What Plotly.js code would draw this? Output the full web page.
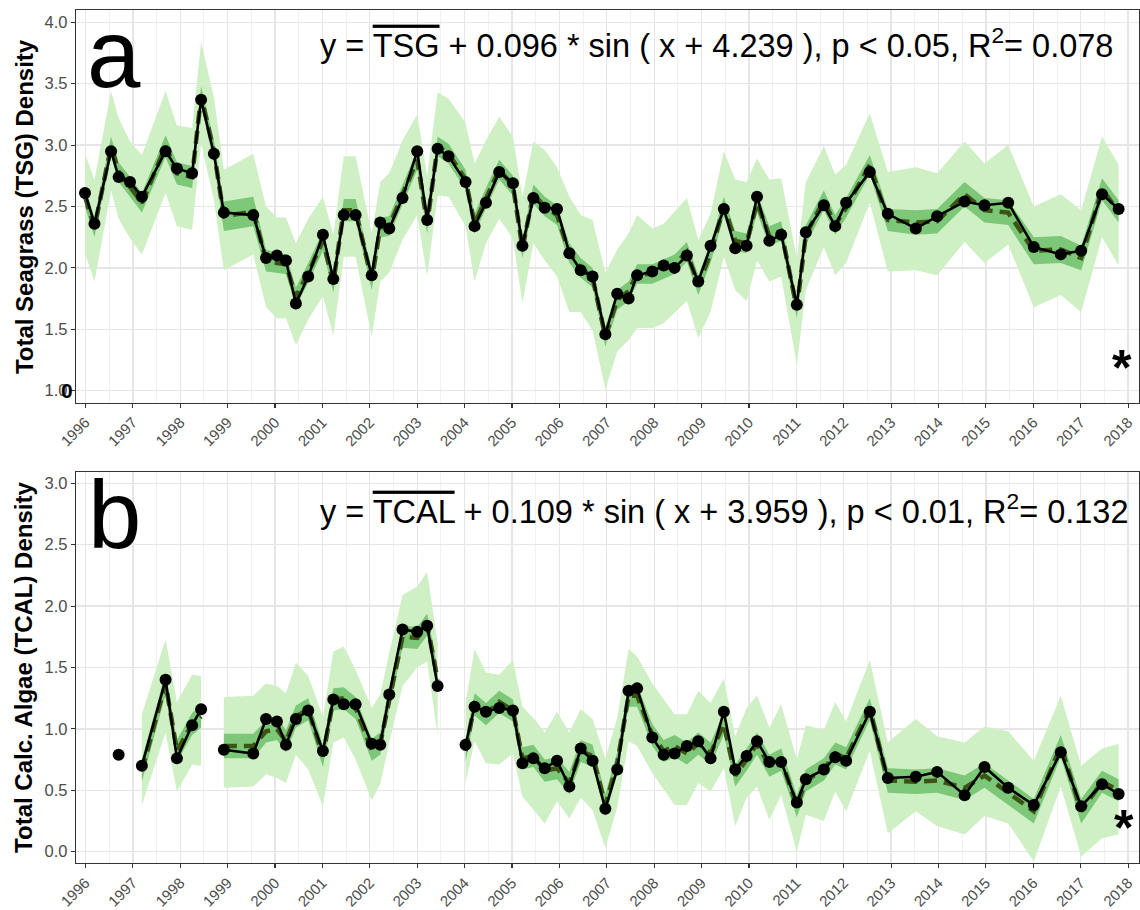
<!DOCTYPE html>
<html>
<head>
<meta charset="utf-8">
<script src="https://cdn.plot.ly/plotly-3.0.1.min.js"></script>
<style>html,body{margin:0;padding:0;background:#fff;}#chart{width:1140px;height:910px;}</style>
</head>
<body>
<div id="chart"></div>
<script>
// ---------- Panel a : Total Seagrass (TSG) ----------
const yearsA = [1995.99,1996.19,1996.54,1996.70,1996.94,1997.19,1997.69,1997.93,1998.25,1998.44,
  1998.71,1998.92,1999.54,1999.81,2000.04,2000.23,2000.44,2000.70,2001.01,2001.23,
  2001.45,2001.70,2002.04,2002.22,2002.41,2002.69,2003.00,2003.21,2003.43,2003.66,
  2004.02,2004.21,2004.45,2004.73,2005.02,2005.22,2005.45,2005.69,2005.95,2006.21,
  2006.45,2006.70,2006.97,2007.22,2007.46,2007.64,2007.96,2008.20,2008.43,2008.69,
  2008.93,2009.19,2009.47,2009.71,2009.95,2010.17,2010.43,2010.68,2011.01,2011.20,
  2011.58,2011.82,2012.05,2012.55,2012.93,2013.52,2013.97,2014.55,2014.97,2015.47,
  2016.01,2016.58,2017.01,2017.45,2017.80];
const tsg = [2.61,2.36,2.95,2.74,2.70,2.58,2.95,2.81,2.77,3.37,
  2.93,2.45,2.43,2.08,2.10,2.06,1.71,1.93,2.27,1.91,
  2.43,2.43,1.94,2.37,2.32,2.57,2.95,2.39,2.97,2.91,
  2.70,2.34,2.53,2.78,2.69,2.18,2.57,2.49,2.48,2.12,
  1.98,1.93,1.46,1.79,1.75,1.94,1.97,2.02,2.00,2.10,
  1.89,2.18,2.48,2.16,2.18,2.58,2.22,2.27,1.70,2.29,
  2.51,2.34,2.53,2.78,2.44,2.32,2.42,2.54,2.51,2.53,
  2.17,2.11,2.14,2.60,2.48];
const tsgFit = [2.58,2.33,2.99,2.78,2.66,2.53,2.99,2.77,2.74,3.40,
  2.95,2.42,2.46,2.06,2.04,2.03,1.76,1.96,2.22,1.88,
  2.47,2.47,1.90,2.33,2.34,2.60,2.88,2.36,2.99,2.93,
  2.72,2.36,2.57,2.80,2.67,2.16,2.60,2.50,2.43,2.12,
  2.00,1.92,1.44,1.74,1.81,1.95,1.95,1.99,2.03,2.13,
  1.86,2.12,2.50,2.22,2.20,2.53,2.26,2.30,1.67,2.27,
  2.55,2.35,2.49,2.84,2.39,2.37,2.38,2.60,2.47,2.45,
  2.14,2.15,2.08,2.64,2.46];
const tsgDarkHi = [2.66,2.41,3.07,2.86,2.74,2.61,3.08,2.86,2.83,3.48,
  3.04,2.54,2.58,2.15,2.12,2.11,1.84,2.04,2.30,1.96,
  2.56,2.56,1.98,2.41,2.42,2.68,2.96,2.44,3.07,3.01,
  2.80,2.44,2.65,2.88,2.75,2.24,2.68,2.58,2.51,2.20,
  2.08,2.00,1.52,1.82,1.89,2.03,2.03,2.07,2.11,2.21,
  1.94,2.20,2.58,2.30,2.28,2.61,2.34,2.38,1.75,2.35,
  2.63,2.43,2.57,2.92,2.48,2.47,2.48,2.70,2.57,2.55,
  2.25,2.26,2.18,2.73,2.55];
const tsgDarkLo = [2.50,2.25,2.91,2.70,2.58,2.45,2.90,2.68,2.65,3.32,
  2.86,2.30,2.34,1.97,1.96,1.95,1.68,1.88,2.14,1.80,
  2.38,2.38,1.82,2.25,2.26,2.52,2.80,2.28,2.91,2.85,
  2.64,2.28,2.49,2.72,2.59,2.08,2.52,2.42,2.35,2.04,
  1.92,1.84,1.36,1.66,1.73,1.87,1.87,1.91,1.95,2.05,
  1.78,2.04,2.42,2.14,2.12,2.45,2.18,2.22,1.59,2.19,
  2.47,2.27,2.41,2.76,2.30,2.27,2.28,2.50,2.37,2.35,
  2.03,2.04,1.98,2.55,2.37];
const tsgLightHi = [2.93,2.72,3.44,3.22,3.03,2.92,3.44,3.16,3.14,3.84,
  3.39,2.80,2.93,2.50,2.41,2.41,2.20,2.40,2.58,2.27,
  2.91,2.91,2.28,2.70,2.77,3.04,3.25,2.75,3.43,3.38,
  3.18,2.85,3.04,3.23,3.07,2.58,3.03,2.96,2.82,2.58,
  2.43,2.39,1.96,2.15,2.28,2.43,2.32,2.36,2.46,2.57,
  2.23,2.44,2.95,2.72,2.70,2.89,2.72,2.73,2.08,2.70,
  2.99,2.76,2.84,3.26,2.78,2.82,2.77,3.03,2.85,3.00,
  2.50,2.60,2.47,3.07,2.84];
const tsgLightLo = [2.12,1.89,2.63,2.40,2.24,2.11,2.61,2.34,2.31,3.01,
  2.55,1.98,2.11,1.68,1.59,1.59,1.37,1.58,1.77,1.45,
  2.09,2.09,1.44,1.89,1.96,2.23,2.43,1.93,2.59,2.58,
  2.34,1.89,2.20,2.40,2.24,1.71,2.20,2.06,1.93,1.64,
  1.64,1.49,1.01,1.32,1.41,1.51,1.51,1.55,1.63,1.73,
  1.43,1.64,2.09,1.82,1.73,2.06,1.89,1.93,1.21,1.82,
  2.17,1.94,2.04,2.53,1.97,1.98,1.94,2.21,2.04,2.19,
  1.68,1.78,1.64,2.25,2.02];

// ---------- Panel b : Total Calc. Algae (TCAL) ----------
const yearsB = [1996.70,1997.19,1997.69,1997.93,1998.25,1998.44,1998.92,1999.54,1999.81,2000.04,
  2000.23,2000.44,2000.70,2001.01,2001.23,2001.45,2001.70,2002.04,2002.22,2002.41,
  2002.69,2003.00,2003.21,2003.43,2004.02,2004.21,2004.45,2004.73,2005.02,2005.22,
  2005.45,2005.69,2005.95,2006.21,2006.45,2006.70,2006.97,2007.22,2007.46,2007.64,
  2007.96,2008.20,2008.43,2008.69,2008.93,2009.19,2009.47,2009.71,2009.95,2010.17,
  2010.43,2010.68,2011.01,2011.20,2011.58,2011.82,2012.05,2012.55,2012.93,2013.52,
  2013.97,2014.55,2014.97,2015.47,2016.01,2016.58,2017.01,2017.45,2017.80];
const segB = [0,1,1,1,1,1,2,2,2,2,
  2,2,2,2,2,2,2,2,2,2,
  2,2,2,2,3,3,3,3,3,3,
  3,3,3,3,3,3,3,3,3,3,
  3,3,3,3,3,3,3,3,3,3,
  3,3,3,3,3,3,3,3,3,3,
  3,3,3,3,3,3,3,3,3];
const tcal = [0.79,0.70,1.40,0.76,1.03,1.16,0.83,0.80,1.08,1.06,
  0.87,1.08,1.15,0.82,1.24,1.20,1.20,0.88,0.87,1.28,
  1.81,1.79,1.84,1.35,0.87,1.18,1.14,1.17,1.15,0.72,
  0.76,0.68,0.74,0.53,0.84,0.74,0.35,0.67,1.31,1.33,
  0.93,0.79,0.80,0.86,0.90,0.76,1.14,0.67,0.78,0.90,
  0.73,0.73,0.40,0.59,0.67,0.77,0.74,1.14,0.60,0.61,
  0.65,0.46,0.69,0.52,0.38,0.81,0.37,0.55,0.47];
const tcalFit = [null,0.66,1.37,0.82,1.04,1.10,0.86,0.86,0.98,1.00,
  0.90,1.10,1.16,0.78,1.24,1.25,1.17,0.83,0.88,1.25,
  1.75,1.74,1.85,1.40,0.82,1.20,1.12,1.22,1.15,0.76,
  0.78,0.66,0.68,0.56,0.82,0.78,0.38,0.72,1.27,1.27,
  0.95,0.82,0.86,0.80,0.88,0.80,1.04,0.62,0.75,0.88,
  0.70,0.75,0.37,0.58,0.67,0.80,0.76,1.16,0.58,0.57,
  0.58,0.52,0.62,0.48,0.33,0.86,0.33,0.57,0.50];
const tcalDarkHi = [null,0.75,1.46,0.91,1.13,1.19,0.96,0.96,1.07,1.09,
  0.99,1.19,1.25,0.87,1.33,1.34,1.26,0.92,0.97,1.34,
  1.84,1.83,1.94,1.49,0.91,1.29,1.21,1.31,1.24,0.85,
  0.87,0.75,0.77,0.65,0.91,0.87,0.47,0.81,1.36,1.36,
  1.04,0.91,0.95,0.89,0.97,0.89,1.13,0.71,0.84,0.97,
  0.79,0.84,0.46,0.67,0.76,0.89,0.85,1.25,0.68,0.67,
  0.68,0.62,0.72,0.58,0.43,0.95,0.43,0.66,0.59];
const tcalDarkLo = [null,0.57,1.28,0.73,0.95,1.01,0.76,0.76,0.89,0.91,
  0.81,1.01,1.07,0.69,1.15,1.16,1.08,0.74,0.79,1.16,
  1.66,1.65,1.76,1.31,0.73,1.11,1.03,1.13,1.06,0.67,
  0.69,0.57,0.59,0.47,0.73,0.69,0.29,0.63,1.18,1.18,
  0.86,0.73,0.77,0.71,0.79,0.71,0.95,0.53,0.66,0.79,
  0.61,0.66,0.28,0.49,0.58,0.71,0.67,1.07,0.48,0.47,
  0.48,0.42,0.52,0.38,0.23,0.77,0.23,0.48,0.41];
const tcalLightHi = [null,1.12,1.73,1.22,1.44,1.43,1.26,1.27,1.37,1.35,
  1.29,1.54,1.43,1.10,1.63,1.67,1.48,1.17,1.28,1.62,
  2.09,2.16,2.28,1.70,1.21,1.65,1.46,1.44,1.56,1.18,
  1.09,0.97,1.14,0.97,1.16,1.08,0.76,1.09,1.65,1.59,
  1.37,1.24,1.12,1.12,1.31,1.21,1.41,0.94,1.17,1.27,
  1.01,1.20,0.75,1.03,0.99,1.22,1.06,1.56,0.89,1.08,
  0.94,0.89,1.02,0.98,0.74,1.27,0.70,0.84,0.88];
const tcalLightLo = [null,0.38,0.97,0.49,0.71,0.70,0.52,0.53,0.63,0.60,
  0.56,0.79,0.67,0.37,0.89,0.93,0.75,0.42,0.55,0.89,
  1.35,1.50,1.55,0.95,0.56,0.90,0.72,0.71,0.80,0.45,
  0.34,0.23,0.41,0.27,0.44,0.34,0.03,0.36,0.90,0.86,
  0.64,0.51,0.38,0.38,0.56,0.49,0.68,0.21,0.44,0.53,
  0.26,0.46,0.00,0.30,0.25,0.49,0.33,0.82,0.15,0.33,
  0.21,0.14,0.29,0.23,-0.08,0.53,-0.04,0.11,0.14];

const tickYears = [1996,1997,1998,1999,2000,2001,2002,2003,2004,2005,2006,2007,2008,2009,2010,2011,2012,2013,2014,2015,2016,2017,2018];
const tickLabels = tickYears.map(String);

// ---------- styles ----------
const LIGHT = '#cfefc5', DARK = '#7cc878', FITC = '#3b5414';
const FONT = 'Liberation Sans, Arial, Helvetica, sans-serif';

function band(xs, lo, hi, color, xa, ya) {
  return {x: xs.concat(xs.slice().reverse()), y: hi.concat(lo.slice().reverse()),
    fill: 'toself', fillcolor: color, mode: 'lines', line: {width: 0, color: color},
    hoverinfo: 'skip', xaxis: xa, yaxis: ya};
}
function fitLine(xs, ys, xa, ya) {
  return {x: xs, y: ys, mode: 'lines', line: {color: FITC, width: 4.5, dash: '13px,7px'},
    xaxis: xa, yaxis: ya, hoverinfo: 'skip'};
}
function obsLine(xs, ys, xa, ya, mode) {
  return {x: xs, y: ys, mode: mode, line: {color: '#000', width: 2.6},
    marker: {color: '#000', size: 12}, xaxis: xa, yaxis: ya};
}

const traces = [];
// panel a
traces.push(band(yearsA, tsgLightLo, tsgLightHi, LIGHT, 'x', 'y'));
traces.push(band(yearsA, tsgDarkLo, tsgDarkHi, DARK, 'x', 'y'));
traces.push(fitLine(yearsA, tsgFit, 'x', 'y'));
traces.push(obsLine(yearsA, tsg, 'x', 'y', 'lines+markers'));

// panel b, by segment
const segs = [...new Set(segB)];
function pick(arr, s) { return arr.filter((_, i) => segB[i] === s); }
segs.forEach(s => {
  const xs = pick(yearsB, s);
  const f = pick(tcalFit, s);
  if (f.every(v => v !== null)) {
    traces.push(band(xs, pick(tcalLightLo, s), pick(tcalLightHi, s), LIGHT, 'x2', 'y2'));
    traces.push(band(xs, pick(tcalDarkLo, s), pick(tcalDarkHi, s), DARK, 'x2', 'y2'));
    traces.push(fitLine(xs, f, 'x2', 'y2'));
  }
});
segs.forEach(s => {
  const xs = pick(yearsB, s);
  traces.push(obsLine(xs, pick(tcal, s), 'x2', 'y2', xs.length > 1 ? 'lines+markers' : 'markers'));
});

const xTickFont = {family: FONT, size: 15, color: '#4d4d4d'};
const yTickFont = {family: FONT, size: 16.5, color: '#4d4d4d'};
function xAxis(anchor) {
  return {anchor: anchor, domain: [0, 1], range: [1995.80, 2018.23],
    tickmode: 'array', tickvals: tickYears, ticktext: tickLabels, tickangle: -45,
    tickfont: xTickFont, ticks: 'outside', ticklen: 4, tickwidth: 1.1, tickcolor: '#333333',
    showline: true, mirror: true, linecolor: '#333333', linewidth: 1.2,
    showgrid: true, gridcolor: '#e6e6e6', gridwidth: 1.3, zeroline: false,
    minor: {tickmode: 'linear', tick0: 1995.5, dtick: 1, showgrid: true, gridcolor: '#eeeeee', gridwidth: 0.8}};
}
function yAxis(anchor, domain, range, tick0) {
  return {anchor: anchor, domain: domain, range: range, tick0: tick0, dtick: 0.5, tickformat: '.1f',
    tickfont: yTickFont, ticks: 'outside', ticklen: 4, tickwidth: 1.1, tickcolor: '#333333',
    showline: true, mirror: true, linecolor: '#333333', linewidth: 1.2,
    showgrid: true, gridcolor: '#e6e6e6', gridwidth: 1.3, zeroline: false};
}

const eqFont = {family: FONT, size: 32.5, color: '#000'};
const layout = {
  width: 1140, height: 910, margin: {l: 76, r: 1, t: 10, b: 47},
  paper_bgcolor: '#fff', plot_bgcolor: '#fff', showlegend: false,
  xaxis: xAxis('y'), yaxis: yAxis('x', [0.5396, 1], [0.902, 4.1], 1.0),
  xaxis2: xAxis('y2'), yaxis2: yAxis('x2', [0, 0.4587], [-0.092, 3.094], 0),
  annotations: [
    {xref: 'paper', yref: 'paper', x: 0.2277, y: 0.9615, xanchor: 'left', yanchor: 'middle', showarrow: false,
     text: 'y = <span style="text-decoration:overline">TSG</span> + 0.096 * sin ( x + 4.239 ), p &lt; 0.05, R<sup>2</sup>= 0.078', font: eqFont},
    {xref: 'paper', yref: 'paper', x: 0.2277, y: 0.4152, xanchor: 'left', yanchor: 'middle', showarrow: false,
     text: 'y = <span style="text-decoration:overline">TCAL</span> + 0.109 * sin ( x + 3.959 ), p &lt; 0.01, R<sup>2</sup>= 0.132', font: eqFont},
    {xref: 'paper', yref: 'paper', x: 0.0089, y: 0.949, xanchor: 'left', yanchor: 'middle', showarrow: false,
     text: 'a', font: {family: FONT, size: 96, color: '#000'}},
    {xref: 'paper', yref: 'paper', x: 0.0094, y: 0.4083, xanchor: 'left', yanchor: 'middle', showarrow: false,
     text: 'b', font: {family: FONT, size: 96, color: '#000'}},
    {xref: 'paper', yref: 'paper', x: 0.984, y: 0.5803, xanchor: 'center', yanchor: 'middle', showarrow: false,
     text: '<b>*</b>', font: {family: FONT, size: 50, color: '#000'}},
    {xref: 'paper', yref: 'paper', x: 0.9859, y: 0.0416, xanchor: 'center', yanchor: 'middle', showarrow: false,
     text: '<b>*</b>', font: {family: FONT, size: 50, color: '#000'}},
    {xref: 'paper', yref: 'paper', x: -0.008, y: 0.5545, xanchor: 'center', yanchor: 'middle', showarrow: false,
     text: '<b>0</b>', font: {family: FONT, size: 21, color: '#000'}},
    {xref: 'paper', yref: 'paper', x: -0.049, y: 0.770, xanchor: 'center', yanchor: 'middle', showarrow: false,
     textangle: -90, text: '<b>Total Seagrass (TSG) Density</b>', font: {family: FONT, size: 24, color: '#000'}},
    {xref: 'paper', yref: 'paper', x: -0.049, y: 0.2298, xanchor: 'center', yanchor: 'middle', showarrow: false,
     textangle: -90, text: '<b>Total Calc. Algae (TCAL) Density</b>', font: {family: FONT, size: 24, color: '#000'}}
  ]
};

Plotly.newPlot('chart', traces, layout, {displayModeBar: false, staticPlot: true});
</script>
</body>
</html>
